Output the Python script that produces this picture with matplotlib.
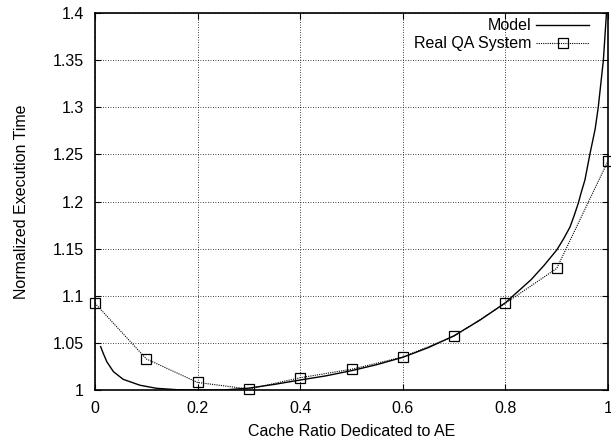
import matplotlib
matplotlib.use("Agg")
import matplotlib.pyplot as plt
from matplotlib.ticker import FuncFormatter

plt.rcParams['font.family'] = ['Liberation Sans', 'DejaVu Sans']

# model curve
model_x = [0.011, 0.016, 0.023, 0.036, 0.055, 0.088, 0.12, 0.16, 0.2, 0.25,
           0.3, 0.35, 0.4, 0.45, 0.5, 0.55, 0.6, 0.65, 0.7, 0.75,
           0.8, 0.85, 0.875, 0.9, 0.913, 0.926, 0.934, 0.942, 0.948, 0.955,
           0.965, 0.975, 0.981, 0.986, 0.991, 0.997]
model_y = [1.046, 1.039, 1.030, 1.0194, 1.0113, 1.005, 1.0018, 1.0003, 1.0, 1.0,
           1.002, 1.006, 1.0106, 1.015, 1.0205, 1.027, 1.0347, 1.045, 1.0576, 1.074,
           1.0926, 1.117, 1.132, 1.1485, 1.160, 1.173, 1.185, 1.198, 1.210, 1.2228,
           1.251, 1.277, 1.30, 1.325, 1.35, 1.40]

# measured points
qa_x = [0.0, 0.1, 0.2, 0.3, 0.4, 0.5, 0.6, 0.7, 0.8, 0.9, 1.0]
qa_y = [1.092, 1.033, 1.008, 1.001, 1.013, 1.022, 1.035, 1.057, 1.092, 1.129, 1.243]

x_ticks = [0, 0.2, 0.4, 0.6, 0.8, 1.0]
y_ticks = [1.0, 1.05, 1.1, 1.15, 1.2, 1.25, 1.3, 1.35, 1.4]

fig = plt.figure(figsize=(6.11, 4.45), dpi=100)
ax = fig.add_axes([95 / 611, 1 - 390 / 445, 513 / 611, 377 / 445])

ax.plot(model_x, model_y, color='black', lw=1.0, clip_on=True)
ax.plot(qa_x, qa_y, color='black', lw=0.8, linestyle=(0, (1, 1)),
        marker='s', markersize=7, markerfacecolor='none',
        markeredgecolor='black', markeredgewidth=0.9, clip_on=False, zorder=3)

ax.set_xlim(0, 1)
ax.set_ylim(1, 1.4)
ax.set_xticks(x_ticks)
ax.set_yticks(y_ticks)
fmt = FuncFormatter(lambda v, p: '%g' % round(v, 2))
ax.xaxis.set_major_formatter(fmt)
ax.yaxis.set_major_formatter(fmt)
ax.tick_params(direction='in', length=4, width=0.8, top=True, right=True,
               labelsize=11.5, pad=8)
ax.grid(True, color='black', linestyle=(0, (1, 2)), lw=0.6)
for s in ax.spines.values():
    s.set_linewidth(1.2)

ax.set_xlabel('Cache Ratio Dedicated to AE', fontsize=11.5, labelpad=6)
ax.set_ylabel('Normalized Execution Time', fontsize=11.5, labelpad=17)

# gnuplot-style key: label right-aligned, sample on the right
ax.text(0.85, 0.968, 'Model', transform=ax.transAxes, ha='right', va='center', fontsize=11.5)
ax.text(0.85, 0.920, 'Real QA System', transform=ax.transAxes, ha='right', va='center', fontsize=11.5)
ax.plot([0.86, 0.963], [0.968, 0.968], transform=ax.transAxes, color='black', lw=1.0)
ax.plot([0.86, 0.963], [0.920, 0.920], transform=ax.transAxes, color='black', lw=0.8,
        linestyle=(0, (1, 1)))
ax.plot([0.9115], [0.920], transform=ax.transAxes, marker='s', markersize=7,
        markerfacecolor='none', markeredgecolor='black', markeredgewidth=0.9)

fig.savefig('out.png', dpi=100)
